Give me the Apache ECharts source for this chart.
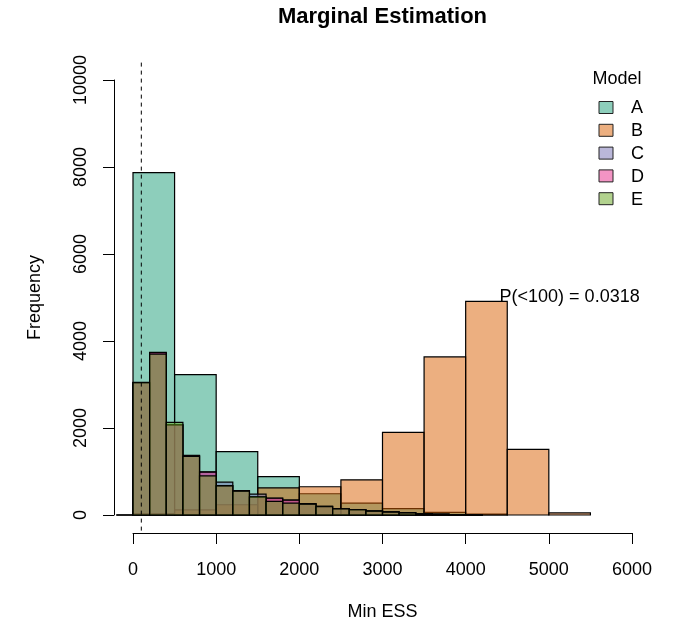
<!DOCTYPE html>
<html>
<head>
<meta charset="utf-8">
<script src="https://cdn.jsdelivr.net/npm/echarts@6/dist/echarts.min.js"></script>
<style>
html,body{margin:0;padding:0;background:#fff;}
#chart{width:674px;height:626px;}
</style>
</head>
<body>
<div id="chart"></div>
<script>
// ---- data ----
const modelNames = ['A', 'B', 'C', 'D', 'E'];
// Model A & B: bins of width 500 starting at 0
const binStartAB = 0;
const binWidthAB = 500;
const countsA = [7870, 3227, 1457, 880, 488, 272, 145, 62, 20];
const countsB = [30, 120, 236, 625, 650, 808, 1900, 3635, 4910, 1510, 48];
// Models C, D, E: bins of width 200 starting at -200
const binStartCDE = -200;
const binWidthCDE = 200;
const countsC = [0, 3050, 3725, 2070, 1370, 990, 755, 560, 481, 390, 345, 260, 200, 150, 120, 95, 75, 55, 32, 20, 8, 3];
const countsD = [0, 3045, 3740, 2070, 1360, 985, 675, 555, 410, 385, 340, 255, 198, 144, 122, 90, 70, 52, 30, 18, 6, 2];
const countsE = [0, 3040, 3700, 2130, 1350, 900, 670, 550, 420, 315, 275, 250, 190, 140, 125, 88, 68, 50, 28, 16, 7, 2];
const xTicks = [0, 1000, 2000, 3000, 4000, 5000, 6000];
const yTicks = [0, 2000, 4000, 6000, 8000, 10000];
const cutoff = 100;
const annotationText = 'P(<100) = 0.0318';
const annotationPos = [5250, 5000];

// ---- styling ----
const colors = ['rgba(27,158,119,0.5)', 'rgba(217,95,2,0.5)', 'rgba(117,112,179,0.5)', 'rgba(231,41,138,0.5)', 'rgba(102,166,30,0.5)'];
const FONT = "'Liberation Sans', Arial, Helvetica, sans-serif";
const FS = 18;

function toBins(counts, start, width) {
  return counts.map((c, i) => [start + i * width, start + (i + 1) * width, c]);
}
const allBins = [
  toBins(countsA, binStartAB, binWidthAB),
  toBins(countsB, binStartAB, binWidthAB),
  toBins(countsC, binStartCDE, binWidthCDE),
  toBins(countsD, binStartCDE, binWidthCDE),
  toBins(countsE, binStartCDE, binWidthCDE)
];

const series = allBins.map((bins, k) => ({
  name: modelNames[k],
  type: 'custom',
  clip: false,
  data: bins,
  renderItem: function (params, api) {
    const p0 = api.coord([api.value(0), api.value(2)]);
    const p1 = api.coord([api.value(1), 0]);
    return {
      type: 'rect',
      shape: { x: p0[0], y: p0[1], width: p1[0] - p0[0], height: p1[1] - p0[1] },
      style: { fill: colors[k], stroke: '#000', lineWidth: 1.2 }
    };
  }
}));

// dashed cutoff line spanning plot region (data range extended 4%)
series.push({
  type: 'custom',
  clip: false,
  data: [[cutoff]],
  renderItem: function (params, api) {
    const top = api.coord([api.value(0), 10400]);
    const bot = api.coord([api.value(0), -400]);
    return {
      type: 'line',
      shape: { x1: top[0], y1: top[1], x2: bot[0], y2: bot[1] },
      style: { stroke: '#000', lineWidth: 1, lineDash: [4, 4] }
    };
  }
});

// annotation text
series.push({
  type: 'custom',
  clip: false,
  data: [annotationPos],
  renderItem: function (params, api) {
    const p = api.coord([api.value(0), api.value(1)]);
    return {
      type: 'text',
      x: p[0], y: p[1],
      style: { text: annotationText, fill: '#000', font: FS + 'px ' + FONT, align: 'center', verticalAlign: 'middle' }
    };
  }
});

// legend as graphics
const legendGraphics = [{
  type: 'text', x: 592.5, y: 79,
  style: { text: 'Model', fill: '#000', font: FS + 'px ' + FONT, verticalAlign: 'middle' }
}];
modelNames.forEach((n, i) => {
  const cy = 107.5 + i * 22.8;
  legendGraphics.push({
    type: 'rect', shape: { x: 599, y: cy - 6, width: 14, height: 12 },
    style: { fill: colors[i], stroke: '#222', lineWidth: 1 }
  });
  legendGraphics.push({
    type: 'text', x: 631, y: cy + 1,
    style: { text: n, fill: '#000', font: FS + 'px ' + FONT, verticalAlign: 'middle' }
  });
});

const chart = echarts.init(document.getElementById('chart'), null, { renderer: 'canvas' });
chart.setOption({
  backgroundColor: '#fff',
  animation: false,
  textStyle: { fontFamily: FONT },
  title: {
    text: 'Marginal Estimation',
    left: 382.5, top: 6, textAlign: 'center', padding: 0,
    textStyle: { fontSize: 22, fontWeight: 'bold', color: '#000', fontFamily: FONT }
  },
  grid: { left: 133, right: 42, top: 80, bottom: 109, containLabel: false },
  xAxis: {
    type: 'value', min: xTicks[0], max: xTicks[xTicks.length - 1], interval: 1000,
    offset: 18,
    name: 'Min ESS', nameLocation: 'middle', nameGap: 70,
    nameTextStyle: { fontSize: FS, color: '#000', fontFamily: FONT },
    axisLine: { show: true, onZero: false, lineStyle: { color: '#000', width: 1 } },
    axisTick: { show: true, length: 11, lineStyle: { color: '#000', width: 1 } },
    axisLabel: { fontSize: FS, color: '#000', margin: 28, fontFamily: FONT, formatter: v => String(v) },
    splitLine: { show: false }
  },
  yAxis: {
    type: 'value', min: yTicks[0], max: yTicks[yTicks.length - 1], interval: 2000,
    offset: 19,
    name: 'Frequency', nameLocation: 'middle', nameGap: 70, nameRotate: 90,
    nameTextStyle: { fontSize: FS, color: '#000', fontFamily: FONT },
    axisLine: { show: true, onZero: false, lineStyle: { color: '#000', width: 1 } },
    axisTick: { show: true, length: 11, lineStyle: { color: '#000', width: 1 } },
    axisLabel: { fontSize: FS, color: '#000', margin: 24, rotate: 90, fontFamily: FONT, formatter: v => String(v) },
    splitLine: { show: false }
  },
  graphic: legendGraphics,
  series: series
});
</script>
</body>
</html>
